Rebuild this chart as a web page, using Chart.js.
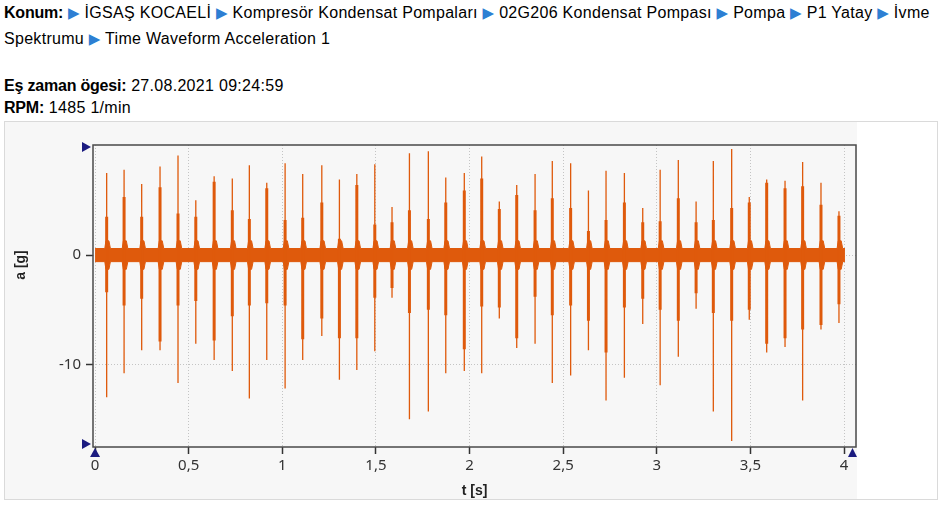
<!DOCTYPE html>
<html>
<head>
<meta charset="utf-8">
<script src="https://cdn.jsdelivr.net/npm/chart.js@4.4.0/dist/chart.umd.min.js"></script>
<style>
body { margin:0; background:#fff; font-family:"Liberation Sans", Arial, sans-serif; font-size:16px; color:#000; }
.path { position:absolute; left:4px; top:0px; line-height:25px; white-space:nowrap; letter-spacing:0.3px; }
.info { position:absolute; left:4px; top:75px; line-height:22px; white-space:nowrap; letter-spacing:0.3px; }
b { letter-spacing:-0.2px; }
.arr { color:#2d7fd3; font-family:"DejaVu Sans", sans-serif; font-size:15px; }
.panel { position:absolute; left:4px; top:121px; width:932px; height:377px; border:1px solid #dadada; background:#fff; }
.plotbox { position:absolute; left:0; top:0; width:852px; height:377px; background:#f7f7f7; }
</style>
</head>
<body>
<div class="path"><b>Konum:</b> <span class="arr">▶</span> İGSAŞ KOCAELİ <span class="arr">▶</span> Kompresör Kondensat Pompaları <span class="arr">▶</span> 02G206 Kondensat Pompası <span class="arr">▶</span> Pompa <span class="arr">▶</span> P1 Yatay <span class="arr">▶</span> İvme<br>Spektrumu <span class="arr">▶</span> Time Waveform Acceleration 1</div>
<div class="info"><b>Eş zaman ögesi:</b> 27.08.2021 09:24:59<br><b>RPM:</b> 1485 1/min</div>
<div class="panel"><div class="plotbox"><canvas id="wave" width="852" height="377"></canvas></div></div>
<script>
// impulse times [s] and extremes [g]
const spikeT = [0.062,0.155,0.249,0.347,0.443,0.538,0.636,0.733,0.824,0.917,1.015,1.109,1.211,1.305,1.398,1.494,1.586,1.679,1.780,1.873,1.972,2.065,2.159,2.252,2.350,2.442,2.540,2.635,2.729,2.827,2.925,3.018,3.115,3.210,3.302,3.400,3.494,3.587,3.685,3.779,3.877,3.973];
const peakHi = [7.5,7.8,6.5,8.1,9.1,5.0,7.2,7.0,8.2,6.6,8.4,7.4,8.2,6.9,7.4,8.3,4.4,9.3,9.5,7.1,7.5,9.0,4.9,6.4,7.4,8.6,8.4,5.9,7.7,7.5,4.3,7.8,8.7,4.9,8.6,9.7,5.3,6.9,6.8,8.5,6.6,4.0];
const peakLo = [-13.0,-10.8,-8.7,-8.7,-11.7,-8.1,-9.6,-10.6,-13.1,-9.6,-12.2,-9.6,-7.4,-11.4,-10.5,-8.8,-3.9,-15.0,-14.3,-10.8,-10.6,-10.8,-5.8,-8.5,-8.1,-11.7,-11.0,-8.7,-13.3,-11.2,-6.3,-11.9,-9.3,-4.9,-14.3,-17.0,-5.9,-8.9,-8.4,-13.3,-6.8,-6.2];
// dense (thick) part of each impulse
const coreHi = [3.5,5.3,3.5,6.2,3.8,3.5,6.7,4.1,3.3,6.1,3.2,3.4,4.8,1.5,6.4,2.8,3.0,4.1,3.3,4.8,5.9,7.0,4.2,5.5,4.1,5.2,4.3,2.2,3.2,4.8,3.0,3.1,5.2,3.0,3.2,4.3,4.8,6.6,6.1,6.3,4.6,3.6];
const coreLo = [-3.4,-4.6,-4.0,-7.9,-4.6,-4.2,-7.8,-5.6,-4.6,-4.4,-4.6,-7.7,-5.8,-7.6,-7.6,-3.9,-3.0,-5.3,-5.0,-5.5,-8.6,-4.7,-4.8,-7.6,-3.8,-5.5,-4.6,-6.0,-8.9,-4.8,-4.0,-5.0,-6.0,-3.5,-5.3,-6.0,-5.0,-8.1,-7.6,-6.8,-6.4,-4.5];
// background noise level between impulses and right after them
const noiseLevel = 0.6;
const burstLevel = 1.3;
const tStart = 0;
const tEnd = 4.005;
const xTicks = [0,0.5,1,1.5,2,2.5,3,3.5,4];
const yTicks = [-10,0];

const orange = '#df5a0c';

let peaks = [], cores = [], bandTop = [], bandBot = [];
bandTop.push({x:tStart, y:noiseLevel});
bandBot.push({x:tStart, y:-noiseLevel});
for (let i = 0; i < spikeT.length; i++) {
    const t = spikeT[i];
    peaks.push({x:t, y:peakHi[i]}, {x:t, y:peakLo[i]}, {x:t, y:null});
    cores.push({x:t, y:coreHi[i]}, {x:t, y:coreLo[i]}, {x:t, y:null});
    bandTop.push({x:t-0.01, y:noiseLevel}, {x:t-0.004, y:burstLevel}, {x:t+0.012, y:burstLevel}, {x:t+0.02, y:noiseLevel});
    bandBot.push({x:t-0.01, y:-noiseLevel}, {x:t-0.004, y:-burstLevel}, {x:t+0.012, y:-burstLevel}, {x:t+0.02, y:-noiseLevel});
}
bandTop.push({x:tEnd, y:noiseLevel});
bandBot.push({x:tEnd, y:-noiseLevel});

const decor = {
    id: 'decor',
    afterDatasetsDraw(chart) {
        const c = chart.ctx, a = chart.chartArea;
        c.save();
        c.strokeStyle = '#4a4a4a';
        c.lineWidth = 1.5;
        c.strokeRect(a.left, a.top, a.right - a.left, a.bottom - a.top);
        c.fillStyle = '#1b1b80';
        const tri = (pts) => { c.beginPath(); c.moveTo(pts[0], pts[1]); c.lineTo(pts[2], pts[3]); c.lineTo(pts[4], pts[5]); c.closePath(); c.fill(); };
        tri([a.left - 11, a.top - 3, a.left - 2, a.top + 2, a.left - 11, a.top + 7]);
        tri([a.left - 11, a.bottom - 8, a.left - 2, a.bottom - 3, a.left - 11, a.bottom + 2]);
        const x0 = chart.scales.x.getPixelForValue(0);
        tri([x0 - 5, a.bottom + 10, x0, a.bottom + 1, x0 + 5, a.bottom + 10]);
        tri([a.right - 8, a.bottom + 10, a.right - 3.5, a.bottom + 1, a.right + 1, a.bottom + 10]);
        c.fillStyle = '#222';
        c.font = 'bold 14px "Liberation Sans", Arial, sans-serif';
        c.textAlign = 'center';
        c.textBaseline = 'middle';
        c.fillText('t [s]', (a.left + a.right) / 2, 369);
        c.translate(16, 143);
        c.rotate(-Math.PI / 2);
        c.fillText('a [g]', 0, 0);
        c.restore();
    }
};

new Chart(document.getElementById('wave'), {
    type: 'scatter',
    data: {
        datasets: [
            { data: peaks, showLine: true, borderColor: orange, borderWidth: 1.3, pointRadius: 0, spanGaps: false },
            { data: cores, showLine: true, borderColor: orange, borderWidth: 3, pointRadius: 0, spanGaps: false },
            { data: bandTop, showLine: true, borderColor: orange, borderWidth: 1, pointRadius: 0, fill: false },
            { data: bandBot, showLine: true, borderColor: orange, borderWidth: 1, pointRadius: 0, fill: '-1', backgroundColor: orange }
        ]
    },
    options: {
        responsive: false,
        animation: false,
        events: [],
        layout: { padding: { left: 0, right: 1, top: 23, bottom: 0 } },
        plugins: { legend: { display: false }, tooltip: { enabled: false } },
        scales: {
            x: {
                type: 'linear', min: -0.011, max: 4.064,
                afterBuildTicks: s => { s.ticks = xTicks.map(v => ({ value: v })); },
                afterFit: s => { s.height = 52; },
                ticks: {
                    callback: v => String(v).replace('.', ','),
                    font: { family: '"Noto Sans", sans-serif', size: 15 },
                    color: '#333', padding: 3, maxRotation: 0
                },
                grid: { color: '#c4c4c4', tickColor: '#333', tickLength: 7, tickWidth: 1.5 },
                border: { display: false, dash: [1, 2] }
            },
            y: {
                min: -17.54, max: 10.06,
                afterBuildTicks: s => { s.ticks = yTicks.map(v => ({ value: v })); },
                afterFit: s => { s.width = 88; },
                ticks: {
                    font: { family: '"Noto Sans", sans-serif', size: 15 },
                    color: '#333', padding: 5
                },
                grid: { color: '#c4c4c4', tickColor: '#333', tickLength: 7, tickWidth: 1.5 },
                border: { display: false, dash: [1, 2] }
            }
        }
    },
    plugins: [decor]
});
</script>
</body>
</html>
